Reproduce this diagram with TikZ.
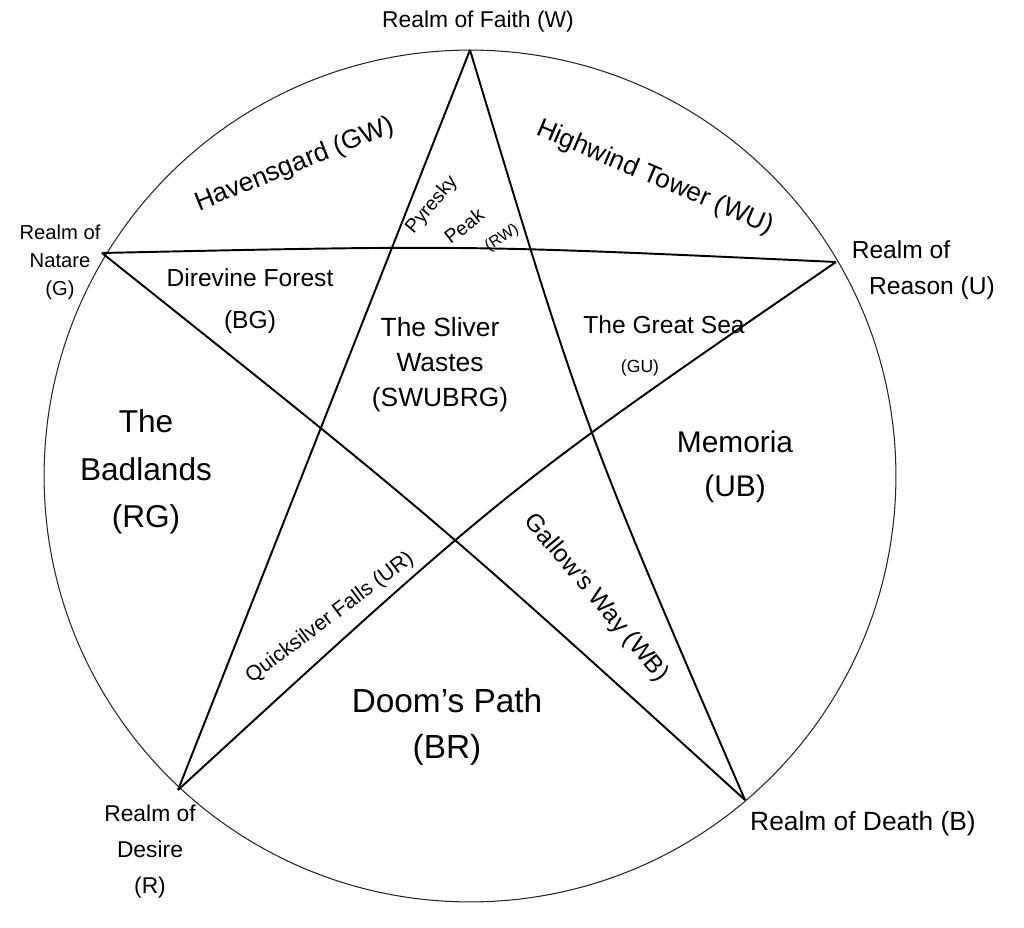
\documentclass[tikz,border=0pt]{standalone}
\usepackage{fontspec}
\setmainfont{Liberation Sans}
\begin{document}
\begin{tikzpicture}[x=0.02cm,y=-0.02cm,
  ringline/.style={draw=black!85, line width=0.6pt},
  starline/.style={draw=black, line width=1.1pt},
  lbl/.style={inner sep=0pt, align=center, text=black},
  fs/.style={font=\fontsize{#1}{#1}\selectfont}]
\useasboundingbox[fill=white] (0,0) rectangle (1024,928);

% circle
\node[ringline, circle, minimum size=17.04cm, inner sep=0pt] (ring) at (470,476) {};

% star points
\coordinate (W) at (470,50);
\coordinate (G) at (102,253);
\coordinate (U) at (836,262);
\coordinate (R) at (178,790);
\coordinate (B) at (745,800);

\draw[starline] (W) -- (R);
\draw[starline] (W) .. controls (583,425) .. (B);
\draw[starline] (G) .. controls (469,245) .. (U);
\draw[starline] (G) .. controls (432,516) .. (B);
\draw[starline] (U) .. controls (507,488) .. (R);

% realm labels
\node[lbl, fs=13] (faith) at (478,22) {Realm of Faith (W)};
\node[lbl, font=\fontsize{11.5}{16}\selectfont] (nature) at (60,262) {Realm of\\Natare\\(G)};
\node[lbl, fs=14] (reason1) at (901,250) {Realm of};
\node[lbl, fs=14] (reason2) at (932,288) {Reason (U)};
\node[lbl, font=\fontsize{13}{20.5}\selectfont] (desire) at (150,852) {Realm of\\Desire\\(R)};
\node[lbl, fs=15] (death) at (863,824) {Realm of Death (B)};

% region labels
\node[lbl, fs=15, rotate=22] (haven) at (295,165) {Havensgard (GW)};
\node[lbl, fs=15, rotate=-23] (high) at (655,178) {Highwind Tower (WU)};
\node[lbl, fs=11, rotate=50] (pyr1) at (432,205) {Pyresky};
\node[lbl, fs=11, rotate=38] (pyr2) at (464,226) {Peak};
\node[lbl, fs=9, rotate=33] (pyr3) at (502,238) {(RW)};
\node[lbl, font=\fontsize{14}{24}\selectfont] (dire) at (250,301) {Direvine Forest\\(BG)};
\node[lbl, font=\fontsize{15}{20}\selectfont] (sliver) at (440,365) {The Sliver\\Wastes\\(SWUBRG)};
\node[lbl, fs=14] (sea) at (664,325) {The Great Sea};
\node[lbl, fs=10] (gu) at (640,368) {(GU)};
\node[lbl, font=\fontsize{18}{27}\selectfont] (bad) at (146,472) {The\\Badlands\\(RG)};
\node[lbl, font=\fontsize{17}{25}\selectfont] (mem) at (735,467) {Memoria\\(UB)};
\node[lbl, fs=14, rotate=-50] (gallow) at (596,598) {Gallow's Way (WB)};
\node[lbl, fs=12, rotate=37] (quick) at (330,618) {Quicksilver Falls (UR)};
\node[lbl, font=\fontsize{19}{26}\selectfont] (doom) at (447,727) {Doom's Path\\(BR)};
\end{tikzpicture}
\end{document}
